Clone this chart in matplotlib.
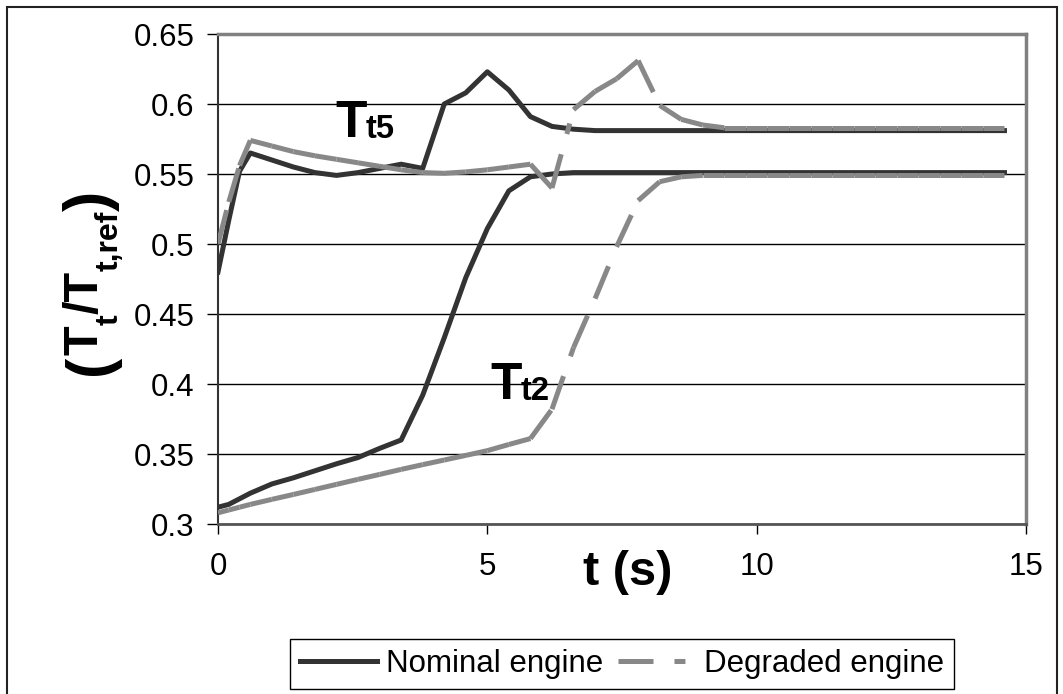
import matplotlib
matplotlib.use("Agg")
import matplotlib.pyplot as plt
from matplotlib.collections import LineCollection
from matplotlib.lines import Line2D
from matplotlib.patches import Rectangle
import numpy as np

plt.rcParams['font.family'] = ['Liberation Sans', 'DejaVu Sans']
plt.rcParams['lines.scale_dashes'] = False

# ---------------- data ----------------
t = [0.0, 0.2, 0.4, 0.6, 1.0, 1.4, 1.8, 2.2, 2.6, 3.0, 3.4, 3.8, 4.2, 4.6, 5.0,
     5.4, 5.8, 6.2, 6.6, 7.0, 7.4, 7.8, 8.2, 8.6, 9.0, 9.4, 9.8, 10.2, 10.6,
     11.0, 11.4, 11.8, 12.2, 12.6, 13.0, 13.4, 13.8, 14.2, 14.6]

nominal_tt5 = [0.480, 0.517, 0.552, 0.565, 0.560, 0.555, 0.551, 0.549, 0.551,
               0.554, 0.557, 0.554, 0.600, 0.608, 0.623, 0.610, 0.591, 0.584,
               0.582, 0.581, 0.581, 0.581, 0.581, 0.581, 0.581, 0.581, 0.581,
               0.581, 0.581, 0.581, 0.581, 0.581, 0.581, 0.581, 0.581, 0.581,
               0.581, 0.581, 0.581]

degraded_tt5 = [0.500, 0.530, 0.556, 0.574, 0.570, 0.566, 0.563, 0.5605, 0.558,
                0.5555, 0.553, 0.551, 0.5505, 0.5515, 0.553, 0.555, 0.557, 0.540,
                0.596, 0.609, 0.618, 0.631, 0.599, 0.589, 0.585, 0.583, 0.583,
                0.583, 0.583, 0.583, 0.583, 0.583, 0.583, 0.583, 0.583, 0.583,
                0.583, 0.583, 0.583]

nominal_tt2 = [0.312, 0.314, 0.318, 0.322, 0.3286, 0.333, 0.338, 0.343, 0.3475,
               0.354, 0.360, 0.392, 0.433, 0.476, 0.511, 0.538, 0.548, 0.550,
               0.551, 0.551, 0.551, 0.551, 0.551, 0.551, 0.551, 0.551, 0.551,
               0.551, 0.551, 0.551, 0.551, 0.551, 0.551, 0.551, 0.551, 0.551,
               0.551, 0.551, 0.551]

degraded_tt2 = [0.308, 0.310, 0.312, 0.314, 0.3176, 0.3211, 0.3247, 0.3283, 0.3319,
                0.3354, 0.339, 0.3424, 0.3457, 0.349, 0.3524, 0.3568, 0.361, 0.382,
                0.426, 0.461, 0.498, 0.531, 0.5445, 0.548, 0.549, 0.549, 0.549,
                0.549, 0.549, 0.549, 0.549, 0.549, 0.549, 0.549, 0.549, 0.549,
                0.549, 0.549, 0.549]

x_ticks = [0, 5, 10, 15]
y_ticks = [0.3, 0.35, 0.4, 0.45, 0.5, 0.55, 0.6, 0.65]
y_tick_labels = ['0.3', '0.35', '0.4', '0.45', '0.5', '0.55', '0.6', '0.65']
legend_labels = ['Nominal engine', 'Degraded engine']

# ---------------- style ----------------
W, H = 1063, 694
DARK = '#333333'
GRAY = '#888888'
LW = 3.6
DASH = (0, (25.2, 15.1, 7.9, 15.1))
TICK_FS = 22.5


def fx(x):
    return x / W


def fy(y):
    return 1 - y / H


fig = plt.figure(figsize=(W / 100, H / 100), dpi=100)
ax = fig.add_axes([fx(218), fy(524), (1026 - 218) / W, (524 - 34) / H])

ax.set_xlim(0, 15)
ax.set_ylim(0.3, 0.65)
ax.set_xticks(x_ticks)
ax.set_xticklabels([str(v) for v in x_ticks], fontsize=TICK_FS)
ax.set_yticks(y_ticks)
ax.set_yticklabels(y_tick_labels, fontsize=TICK_FS)
ax.tick_params(axis='y', direction='out', length=8, width=1, color='black', pad=9)
ax.tick_params(axis='x', direction='out', length=7.5, width=1, color='black', pad=13)

ax.yaxis.grid(True, color='black', linewidth=1)
ax.set_axisbelow(True)

for s in ('top', 'right'):
    ax.spines[s].set_color('#808080')
    ax.spines[s].set_linewidth(2.5)
ax.spines['left'].set_color('#333333')
ax.spines['left'].set_linewidth(1.5)
ax.spines['bottom'].set_color('#555555')
ax.spines['bottom'].set_linewidth(2)

# nominal (solid)
ax.plot(t, nominal_tt5, color=DARK, lw=LW, solid_joinstyle='round', zorder=3)
ax.plot(t, nominal_tt2, color=DARK, lw=LW, solid_joinstyle='round', zorder=3)


# degraded (dash pattern restarts on every segment, as in the original)
def segments(x, y):
    pts = np.column_stack([x, y])
    return np.stack([pts[:-1], pts[1:]], axis=1)


for series in (degraded_tt5, degraded_tt2):
    lc = LineCollection(segments(t, series), colors=GRAY, linewidths=LW,
                        linestyles=[DASH], capstyle='butt', zorder=4)
    ax.add_collection(lc)

# annotations
ax_kw = dict(fontweight='bold', color='black', ha='left', va='baseline')
fig.text(fx(335), fy(137), 'T', fontsize=37, **ax_kw)
fig.text(fx(366), fy(138), 't5', fontsize=23.5, **ax_kw)
fig.text(fx(490), fy(399), 'T', fontsize=37, **ax_kw)
fig.text(fx(520.5), fy(400), 't2', fontsize=23.5, **ax_kw)

# x label
fig.text(fx(583), fy(585), 't (s)', fontsize=35, **ax_kw)

# y label built from pieces (rotated, read bottom to top)
renderer = fig.canvas.get_renderer()
pieces = [('(', 44, 9), ('T', 35, 0), ('t', 23, 20), ('/T', 35, 0),
          ('t,ref', 23, 20), (')', 44, 9)]
base_x = 98
ycur = 375
for s, size, off in pieces:
    txt = fig.text(fx(base_x + off), fy(ycur), s, rotation=90,
                   rotation_mode='anchor', ha='left', va='baseline',
                   fontsize=size, fontweight='bold')
    bb = txt.get_window_extent(renderer)
    ycur -= bb.height

# legend
handles = [Line2D([], [], color=DARK, lw=LW),
           Line2D([], [], color=GRAY, lw=LW, linestyle=DASH, dash_capstyle='butt')]
leg = fig.legend(handles, legend_labels, ncol=2, loc='center',
                 bbox_to_anchor=(fx(622), fy(664)), bbox_transform=fig.transFigure,
                 fontsize=TICK_FS, handlelength=2.46, handletextpad=0.28,
                 columnspacing=0.48, borderpad=0.33, borderaxespad=0,
                 frameon=True, fancybox=False, framealpha=1, edgecolor='black')
leg.get_frame().set_linewidth(1)

# outer frame of the chart area
fig.patches.append(Rectangle((fx(7), -0.05), (1057 - 7) / W, fy(7) + 0.05,
                             transform=fig.transFigure, fill=False,
                             edgecolor='#222222', linewidth=1.5))

fig.savefig('out.png', dpi=100)
